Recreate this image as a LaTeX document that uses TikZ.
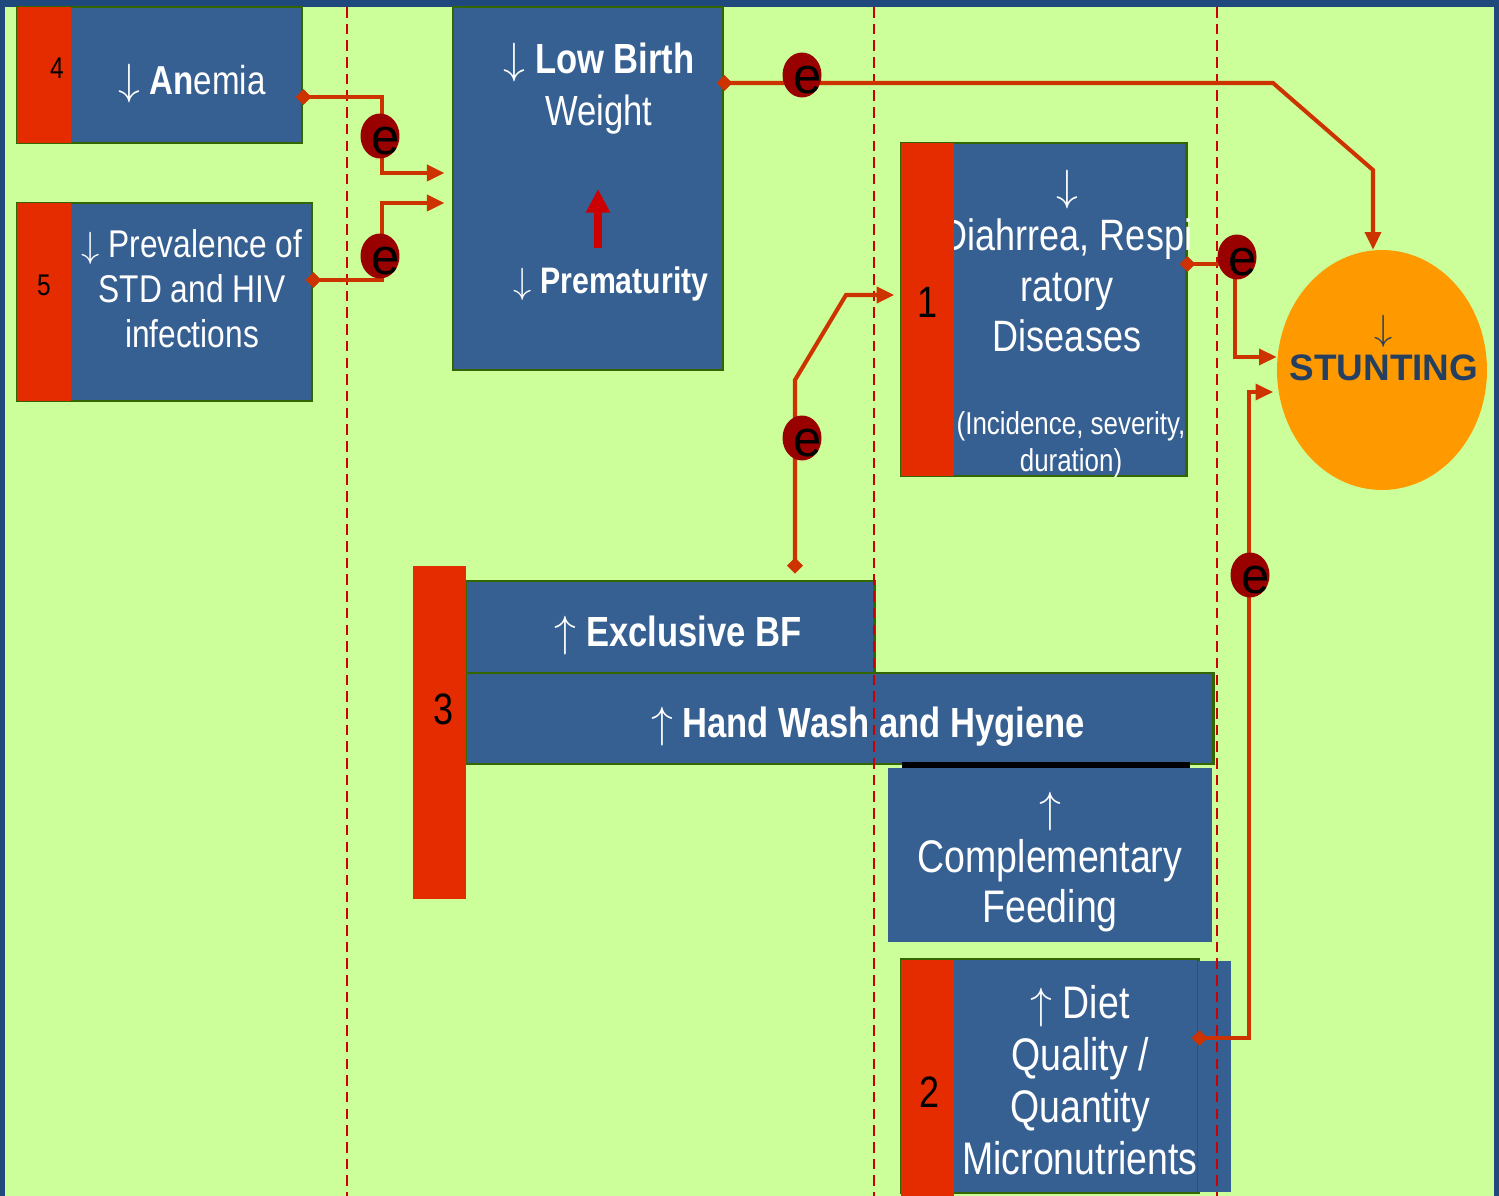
\documentclass[tikz,border=0pt]{standalone}
\usepackage{fontspec}
\setmainfont{Liberation Sans}[FakeStretch=0.82]
\newfontfamily\widesans{Liberation Sans}
\usetikzlibrary{arrows.meta,shapes.geometric,fit}
\definecolor{bgc}{HTML}{CCFF99}
\definecolor{framec}{HTML}{1F497D}
\definecolor{boxc}{HTML}{376092}
\definecolor{edgec}{HTML}{336600}
\definecolor{stripc}{HTML}{E42C00}
\definecolor{linkc}{HTML}{CC3300}
\definecolor{markc}{HTML}{990000}
\definecolor{guidec}{HTML}{CC0000}
\definecolor{orangec}{HTML}{FF9900}
\definecolor{stuntc}{HTML}{243F60}
\newcommand{\fsz}[2]{\fontsize{#1}{#2}\selectfont}
\newcommand{\dn}{\ensuremath{\downarrow}}
\newcommand{\upa}{\ensuremath{\uparrow}}
\tikzset{
  bbox/.style={draw=edgec, fill=boxc, line width=1.7pt, inner sep=0pt},
  lbl/.style={text=white, align=center, inner sep=0pt},
  num/.style={text=black, inner sep=0pt},
  strip/.style={fill=stripc},
  guide/.style={draw=guidec, line width=1.6pt, dash pattern=on 6pt off 3.5pt},
  link/.style={draw=linkc, line width=2.3pt, {Diamond[length=9pt,width=9pt]}-{Triangle[length=10pt,width=9pt]}, shorten <=-4.5pt},
  emark/.style={ellipse, fill=markc, minimum width=0.78cm, minimum height=0.9cm, inner sep=0pt,
    label={[text=black, font=\widesans\fsz{29}{29}, xshift=3.5pt, yshift=-3pt]center:e}}
}
\begin{document}
\begin{tikzpicture}[x=0.02cm,y=-0.02cm]
\useasboundingbox (0,0) rectangle (1499,1196);
\fill[framec] (0,0) rectangle (1499,1196);
\fill[bgc] (5,7) rectangle (1494,1196);

\node[bbox, fit={(17,7) (302,143)}] (anemia) {};
\node[bbox, fit={(17,203) (312,401)}] (std) {};
\node[bbox, fit={(453,7) (723,370)}] (lbw) {};
\node[bbox, fit={(901,143) (1186,476)}] (diarr) {};
\node[bbox, fit={(466,581) (874,673)}] (ebf) {};
\node[bbox, fit={(466,673) (1213,764)}] (hw) {};
\fill[black] (902,762) rectangle (1190,769);
\node[bbox, draw=none, fit={(888,768) (1212,942)}] (cf) {};
\node[bbox, fit={(901,959) (1198,1193)}] (diet) {};
\fill[boxc] (1198,961) rectangle (1231,1192);
\node[ellipse, fill=orangec, minimum width=4.2cm, minimum height=4.8cm] (stunt) at (1382,370) {};

\node[lbl, font=\fsz{23}{27}] (tAnemia) at (192,84) {\dn\ \textbf{An}emia};
\node[lbl, font=\fsz{22}{25.6}] (tStd) at (192,289) {\dn\ Prevalence of\\STD and HIV\\infections};
\node[lbl, font=\fsz{24}{29.5}] (tLbw) at (599,89) {\textbf{\dn\ Low Birth}\\Weight};
\node[lbl, font=\fsz{21}{25}\bfseries] (tPrem) at (611,284) {\dn\ Prematurity};
\node[lbl, font=\fsz{25}{28.5}] (tDiarr) at (1067,261) {\dn\\Diahrrea, Respi\\ratory\\Diseases};
\node[lbl, font=\fsz{18}{21}] (tIncid) at (1071,445) {(Incidence, severity,\\duration)};
\node[lbl, font=\fsz{24}{28}\bfseries] (tEbf) at (678,635) {\upa\ Exclusive BF};
\node[lbl, font=\fsz{24}{28}\bfseries] (tHw) at (868,727) {\upa\ Hand Wash and Hygiene};
\node[lbl, font=\fsz{26}{28.5}] (tCf) at (1050,862) {\upa\\Complementary\\Feeding};
\node[lbl, font=\fsz{26}{29.6}] (tDiet) at (1080,1080) {\upa\ Diet\\Quality /\\Quantity\\Micronutrients};
\node[lbl, text=stuntc, font=\widesans\fsz{21}{22.8}] (tStunt) at (1384,348) {\dn\\\textbf{STUNTING}};

\fill[strip] (17,7) rectangle (71,143);
\fill[strip] (17,203) rectangle (71,401);
\fill[strip] (901,143) rectangle (954,476);
\fill[strip] (413,566) rectangle (466,899);
\fill[strip] (901,960) rectangle (954,1196);
\node[num, font=\fsz{17}{17}] (n4) at (57,68) {4};
\node[num, font=\fsz{17}{17}] (n5) at (44,285) {5};
\node[num, font=\fsz{25}{25}] (n1) at (928,302) {1};
\node[num, font=\fsz{25}{25}] (n3) at (444,709) {3};
\node[num, font=\fsz{25}{25}] (n2) at (930,1092) {2};

\draw[guide] (347,7) -- (347,1196);
\draw[guide] (874,7) -- (874,1196);
\draw[guide] (1217,7) -- (1217,1196);

\coordinate (up1) at (598,248);
\coordinate (up2) at (598,189);
\draw[draw=guidec, line width=4.5pt, -{Triangle[length=13.5pt,width=13pt]}] (up1) -- (up2);

\coordinate (jA) at (382,97);
\coordinate (tA) at (0,173);
\coordinate (jB) at (382,280);
\coordinate (tB) at (0,203);
\coordinate (jC1) at (1273,83);
\coordinate (jC2) at (1373,170);
\coordinate (jD1) at (795,380);
\coordinate (jD2) at (846,295);
\coordinate (jE1) at (1235,264);
\coordinate (jE2) at (1235,357);
\coordinate (jF1) at (1249,1038);
\coordinate (jF2) at (1249,392);
\draw[link, shorten >=4pt] (anemia.east |- jA) -- (jA) |- (lbw.west |- tA);
\draw[link, shorten >=4pt] (std.east |- jB) -- (jB) |- (lbw.west |- tB);
\draw[link] (lbw.east |- jC1) -- (jC1) -- (jC2) -- (jC2 |- stunt.north);
\draw[link, shorten <=3.4pt, shorten >=3pt] (jD1 |- ebf.north) -- (jD1) -- (jD2) -- (diarr.west |- jD2);
\draw[link] (diarr.east |- jE1) -- (jE1) -- (jE2) -- (stunt.west |- jE2);
\draw[link, shorten >=2pt] (diet.east |- jF1) -- (jF1) -- (jF2) -- (stunt.west |- jF2);

\node[emark] (eA) at (380,136) {};
\node[emark] (eB) at (380,256) {};
\node[emark] (eC) at (802,75) {};
\node[emark] (eD) at (802,438) {};
\node[emark] (eE) at (1237,257) {};
\node[emark] (eF) at (1250,575) {};
\end{tikzpicture}
\end{document}
